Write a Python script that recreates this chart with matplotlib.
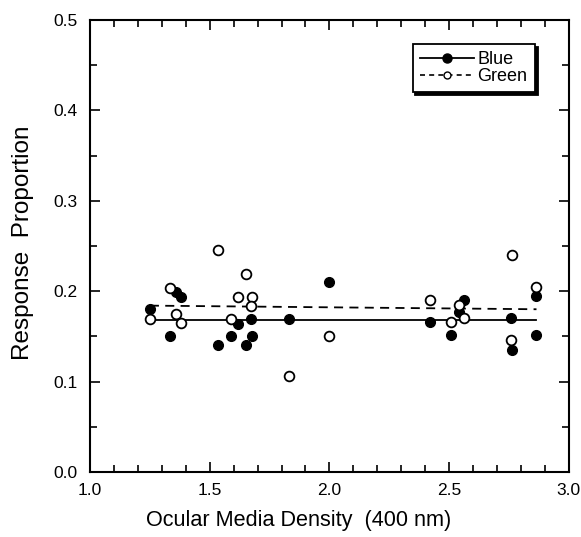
import numpy as np
import matplotlib
matplotlib.use('Agg')
import matplotlib.pyplot as plt

# data
blue_x = [1.25, 1.334, 1.359, 1.379, 1.533, 1.589, 1.617, 1.650, 1.672, 1.678, 1.832,
          1.998, 2.420, 2.509, 2.542, 2.563, 2.759, 2.763, 2.865, 2.865]
blue_y = [0.180, 0.150, 0.199, 0.194, 0.140, 0.150, 0.164, 0.140, 0.169, 0.150, 0.169,
          0.210, 0.166, 0.151, 0.177, 0.190, 0.170, 0.135, 0.195, 0.152]

green_x = [1.25, 1.334, 1.358, 1.379, 1.533, 1.589, 1.617, 1.650, 1.678, 1.672, 1.832,
           1.998, 2.420, 2.509, 2.542, 2.563, 2.763, 2.759, 2.865]
green_y = [0.169, 0.204, 0.175, 0.165, 0.245, 0.169, 0.194, 0.219, 0.194, 0.184, 0.106,
           0.150, 0.190, 0.166, 0.185, 0.170, 0.240, 0.146, 0.205]

# fitted lines (end points)
fit_x = [1.25, 2.865]
blue_fit = [0.168, 0.168]
green_fit = [0.184, 0.180]

plt.rcParams['font.family'] = ['Liberation Sans', 'DejaVu Sans']

fig = plt.figure(figsize=(5.81, 5.37), dpi=100)
ax = fig.add_axes([0.155, 0.121, 0.824, 0.842])

ax.plot(fit_x, blue_fit, color='black', lw=1.3, ls='-')
ax.plot(fit_x, green_fit, color='black', lw=1.3, ls=(0, (5, 3.5)))

ax.plot(blue_x, blue_y, 'o', color='black', ms=7, mec='black', ls='none')
ax.plot(green_x, green_y, 'o', mfc='white', mec='black', mew=1.3, ms=7, ls='none')

# legend handles
h1, = ax.plot([], [], '-o', color='black', lw=1.3, ms=6.5)
h2, = ax.plot([], [], 'o', ls=(0, (3, 2.5)), color='black', mfc='white', mew=1.0, lw=1.2, ms=5)
leg = ax.legend([h1, h2], ['Blue', 'Green'], loc='upper right',
                bbox_to_anchor=(0.929, 0.947), borderaxespad=0, fontsize=13,
                frameon=True, fancybox=False, handlelength=3.0, handletextpad=0.2,
                labelspacing=0.0, borderpad=0.4,
                shadow={'color': 'black', 'alpha': 1.0, 'ox': 2, 'oy': -2})
leg.get_frame().set_edgecolor('black')
leg.get_frame().set_linewidth(1.3)

ax.set_xlim(1.0, 3.0)
ax.set_ylim(0.0, 0.5)
ax.set_xticks(np.arange(1.0, 3.01, 0.5))
ax.set_xticks(np.arange(1.0, 3.01, 0.1), minor=True)
ax.set_yticks(np.arange(0.0, 0.51, 0.1))
ax.set_yticks(np.arange(0.0, 0.51, 0.05), minor=True)
ax.xaxis.set_major_formatter(matplotlib.ticker.FormatStrFormatter('%.1f'))
ax.yaxis.set_major_formatter(matplotlib.ticker.FormatStrFormatter('%.1f'))

ax.tick_params(which='both', direction='in', top=True, right=True, width=1.2,
               labelsize=12.5, colors='black')
ax.tick_params(which='major', length=7)
ax.tick_params(which='minor', length=5)
ax.tick_params(axis='y', pad=9)
ax.tick_params(axis='x', pad=8)
for s in ax.spines.values():
    s.set_linewidth(1.5)

ax.set_xlabel('Ocular Media Density  (400 nm)', fontsize=15.6)
ax.xaxis.set_label_coords(0.436, -0.085)
ax.set_ylabel('Response  Proportion', fontsize=17.5)
ax.yaxis.set_label_coords(-0.118, 0.508)

fig.savefig('out.png', dpi=100)
